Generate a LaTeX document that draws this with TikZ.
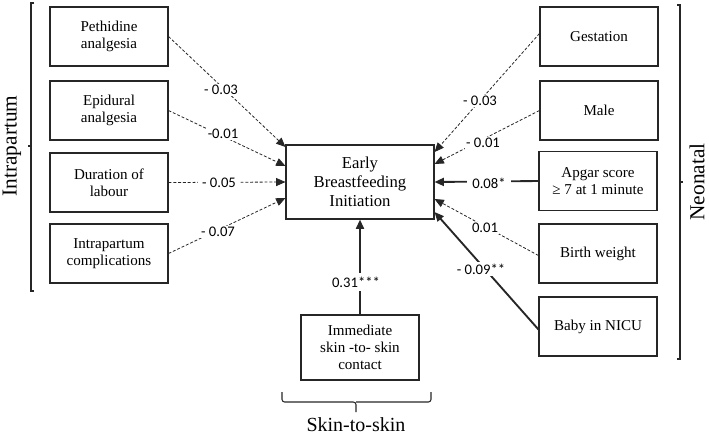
\documentclass[tikz,border=0pt]{standalone}
\usepackage{fontspec}
\setmainfont{Liberation Serif}
\newfontfamily\labfont{Carlito}
\usetikzlibrary{arrows.meta,calc}
\begin{document}
\begin{tikzpicture}[x=0.75pt,y=-0.75pt,
  box/.style={draw=black!85,line width=0.8pt,minimum width=88.5pt,minimum height=44.25pt,align=center,inner sep=0pt,font=\fontsize{11.3}{13}\selectfont},
  bigbox/.style={box,minimum width=111pt,minimum height=55.5pt,font=\fontsize{12.5}{14.25}\selectfont},
  dconn/.style={draw=black!85,line width=0.6pt,dash pattern=on 2.2pt off 1.4pt,-{Triangle[length=7pt,width=6pt]}},
  sconn/.style={draw=black!85,line width=1.4pt,-{Triangle[length=7pt,width=6pt]}},
  lab/.style={fill=white,inner sep=1pt,font=\labfont\fontsize{11}{12}\selectfont},
  grp/.style={font=\fontsize{16}{18}\selectfont},
  brk/.style={draw=black!85,line width=0.8pt}]
\useasboundingbox (0,0) rectangle (709,437);
% left boxes
\node[box] (peth) at (109,36.5) {Pethidine\\analgesia};
\node[box] (epi) at (109,110.5) {Epidural\\analgesia};
\node[box] (dur) at (109,182.5) {Duration of\\labour};
\node[box] (comp) at (109,253.5) {Intrapartum\\complications};
% centre
\node[bigbox] (ebf) at (360,182) {Early\\Breastfeeding\\Initiation};
% right boxes
\node[box] (gest) at (599,36.5) {Gestation};
\node[box] (male) at (599,110.5) {Male};
\node[box] (apgar) at (598,181) {Apgar score\\≥ 7 at 1 minute};
\node[box] (birth) at (598,253.5) {Birth weight};
\node[box] (nicu) at (598,326.5) {Baby in NICU};
% skin
\node[box,minimum height=48.75pt] (skin) at (360,347.5) {Immediate\\skin -to- skin\\contact};
% left connectors
\draw[dconn] (peth.east) -- ($(ebf.west)+(0,-35)$);
\draw[dconn] (epi.east) -- ($(ebf.west)+(0,-16)$);
\draw[dconn] (dur.east) -- (ebf.west);
\draw[dconn] (comp.east) -- ($(ebf.west)+(0,16)$);
% right connectors
\draw[dconn] ($(gest.west)+(0,-3)$) -- ($(ebf.east)+(0,-30)$);
\draw[dconn] (male.west) -- ($(ebf.east)+(0,-18)$);
\draw[sconn] (apgar.west) -- (ebf.east);
\draw[dconn] ($(birth.west)+(0,2)$) -- ($(ebf.east)+(0,17)$);
\draw[sconn] ($(nicu.west)+(0,3)$) -- ($(ebf.east)+(0,30)$);
% skin connector
\draw[sconn] (skin.north) -- (ebf.south);
% labels
\node[lab] (l1) at (221,90) {- 0.03};
\node[lab] (l2) at (223,134) {-0.01};
\node[lab,inner xsep=3pt] (l3) at (219,183) {- 0.05};
\node[lab] (l4) at (218,232) {- 0.07};
\node[lab] (r1) at (480,101) {- 0.03};
\node[lab] (r2) at (483,143) {- 0.01};
\node[lab,inner xsep=4pt] (r3) at (489,183) {0.08*};
\node[lab] (r4) at (485,228) {0.01};
\node[lab] (r5) at (481,269) {- 0.09**};
\node[lab,inner ysep=3pt] (s1) at (356,282) {0.31***};
% brackets
\coordinate (lt) at (31,3);
\coordinate (lb) at (31,291);
\draw[brk] ($(lt)+(3,0)$) -- (lt) -- (lb) -- ($(lb)+(3,0)$);
\draw[brk] (31,146) -- (28,146);
\node[grp,rotate=90] (intra) at (12,146) {Intrapartum};
\coordinate (rt) at (680,5);
\coordinate (rb) at (680,359);
\draw[brk] ($(rt)+(-3,0)$) -- (rt) -- (rb) -- ($(rb)+(-3,0)$);
\draw[brk] (680,182) -- (683,182);
\node[grp,rotate=90] (neo) at (697,182) {Neonatal};
\draw[brk,rounded corners=2pt] (282,392) -- (282,402) -- (356,402) -- (356,412);
\draw[brk,rounded corners=2pt] (431,392) -- (431,402) -- (356,402);
\node[font=\fontsize{15}{17}\selectfont] (sts) at (356,425) {Skin-to-skin};
\end{tikzpicture}
\end{document}
